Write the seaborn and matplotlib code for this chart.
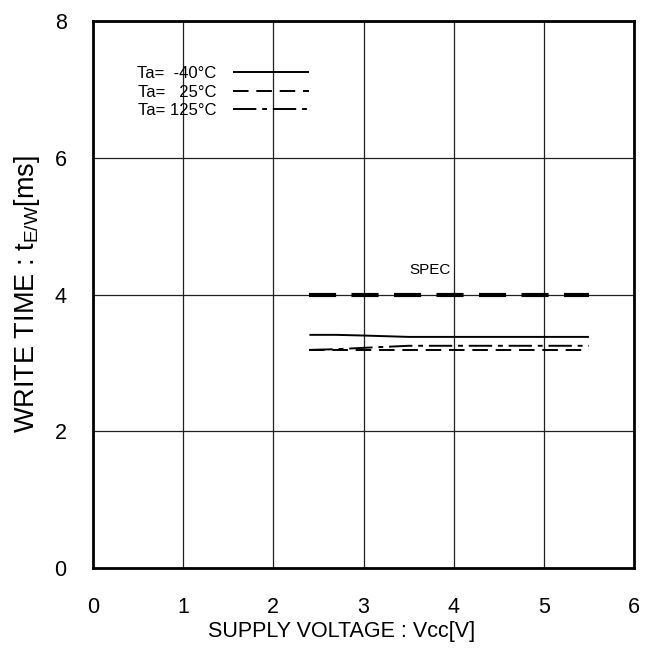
import pandas as pd
import matplotlib.pyplot as plt
import seaborn as sns

# supply voltage points (V) and write time (ms) per temperature
vcc = [2.4, 2.7, 3.0, 3.5, 4.0, 4.5, 5.0, 5.5]
t_m40 = [3.41, 3.41, 3.40, 3.38, 3.38, 3.38, 3.38, 3.38]
t_25 = [3.19, 3.19, 3.19, 3.19, 3.19, 3.19, 3.19, 3.19]
t_125 = [3.19, 3.20, 3.22, 3.25, 3.25, 3.25, 3.25, 3.25]
spec_x = [2.4, 5.5]
spec_y = [4.0, 4.0]

labels = ['Ta=  -40°C', 'Ta=   25°C', 'Ta= 125°C']
styles = [(0, ()), (0, (8, 4)), (0, (12, 3, 2.5, 3))]

df = pd.DataFrame({
    'Vcc': vcc * 3,
    'Time': t_m40 + t_25 + t_125,
    'Temp': [labels[0]] * len(vcc) + [labels[1]] * len(vcc) + [labels[2]] * len(vcc),
})

sns.set_style('white', {'text.color': 'black', 'axes.labelcolor': 'black',
                        'xtick.color': 'black', 'ytick.color': 'black'})
plt.rcParams['font.family'] = ['Liberation Sans', 'DejaVu Sans']
plt.rcParams['mathtext.fontset'] = 'custom'
plt.rcParams['mathtext.rm'] = 'Liberation Sans'
plt.rcParams['mathtext.it'] = 'Liberation Sans'

fig = plt.figure(figsize=(6.57, 6.48), dpi=100)
ax = fig.add_axes([0.1416, 0.1235, 0.8234, 0.844])

for lab, ls in zip(labels, styles):
    sns.lineplot(data=df[df['Temp'] == lab], x='Vcc', y='Time', ax=ax,
                 color='black', linewidth=1.4, linestyle=ls, label=lab)

sns.lineplot(x=spec_x, y=spec_y, ax=ax, color='black', linewidth=3.0,
             linestyle=(0, (6.5, 3.7)))
ax.text(3.74, 4.36, 'SPEC', fontsize=11, ha='center', va='center')

ax.set_xlim(0, 6)
ax.set_ylim(0, 8)
ax.set_xticks(range(0, 7))
ax.set_yticks(range(0, 9, 2))
ax.grid(True, color='#202020', linewidth=0.9)
for s in ax.spines.values():
    s.set_color('black')
    s.set_linewidth(2)
ax.tick_params(labelsize=15.5, length=0)
ax.tick_params(axis='x', pad=21)
ax.tick_params(axis='y', pad=19)

ax.set_xlabel('SUPPLY VOLTAGE : Vcc[V]', fontsize=15.5, labelpad=2)
ax.xaxis.label.set_x(0.46)
ax.set_ylabel(r'WRITE TIME : t$_{\mathregular{E/W}}$[ms]', fontsize=19.5, labelpad=9)

leg = ax.legend(loc='upper left', bbox_to_anchor=(0.081, 0.918), frameon=False,
                markerfirst=False, fontsize=12, handlelength=4.6,
                labelspacing=0.22, handletextpad=1.0, borderaxespad=0,
                borderpad=0)

plt.savefig('out.png', dpi=100)
